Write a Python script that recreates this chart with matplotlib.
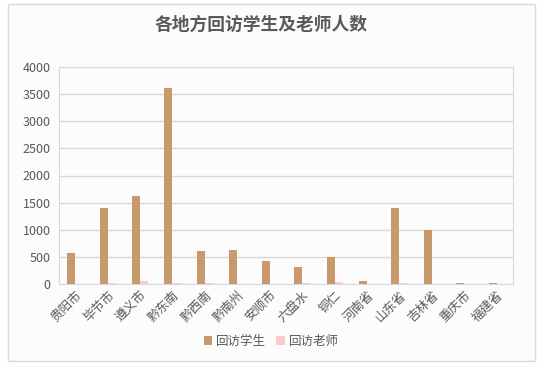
import numpy as np
import matplotlib.pyplot as plt
from matplotlib.patches import Rectangle

plt.rcParams['font.family'] = ['Noto Sans CJK SC', 'DejaVu Sans']

places = ['贵阳市', '毕节市', '遵义市', '黔东南', '黔西南', '黔南州', '安顺市',
          '六盘水', '铜仁', '河南省', '山东省', '吉林省', '重庆市', '福建省']
students = [580, 1400, 1630, 3610, 600, 630, 420, 310, 505, 50, 1400, 990, 18, 18]
teachers = [0, 25, 50, 15, 25, 0, 0, 15, 45, 0, 15, 0, 5, 5]

gold = '#C8996A'
pink = '#FFC7CE'
text_c = '#595959'

fig = plt.figure(figsize=(5.43, 3.67), dpi=100)
fig.patch.set_facecolor('white')
# outer chart border, kept behind the axes
fig.patches.append(Rectangle((8 / 543, 1 - 361 / 367), 527 / 543, 357 / 367,
                             transform=fig.transFigure, fill=True, zorder=-5,
                             facecolor='#FCFCFC', edgecolor='#D9D9D9', lw=1))

ax = fig.add_axes([59 / 543, 1 - 284 / 367, 454 / 543, 217 / 367])
ax.set_facecolor('none')

x = np.arange(len(places))
w = 0.25
ax.bar(x - w / 2, students, w, color=gold, label='回访学生', zorder=3)
ax.bar(x + w / 2, teachers, w, color=pink, label='回访老师', zorder=3)

ax.set_xlim(-0.5, len(places) - 0.5)
ax.set_ylim(0, 4000)
ax.set_yticks(range(0, 4001, 500))
ax.yaxis.grid(True, color='#D9D9D9', lw=1, zorder=0)
for s in ax.spines.values():
    s.set_color('#D9D9D9')
ax.tick_params(length=0, colors=text_c, labelsize=9)
ax.tick_params(axis='y', pad=6)
ax.set_xticks(x)
ax.set_xticklabels(places, rotation=45, ha='right', rotation_mode='anchor')

fig.text(261 / 543, 1 - 25 / 367, '各地方回访学生及老师人数', ha='center', va='center',
         fontsize=12.8, fontweight='bold', color=text_c)

leg = fig.legend(loc='center', bbox_to_anchor=(271 / 543, 1 - 341 / 367), ncol=2,
                 frameon=False, fontsize=9, handlelength=0.7, handleheight=0.7,
                 handletextpad=0.3, columnspacing=0.8)
for t in leg.get_texts():
    t.set_color(text_c)

fig.savefig('out.png', dpi=100)
